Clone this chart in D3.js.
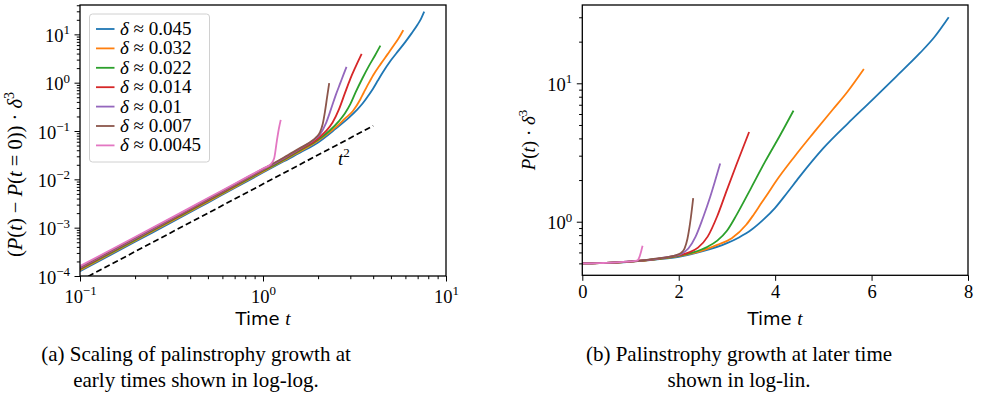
<!DOCTYPE html>
<html>
<head>
<meta charset="utf-8">
<script src="https://cdn.jsdelivr.net/npm/d3@7/dist/d3.min.js"></script>
<style>
  body { margin: 0; background: #fff; }
  svg { display: block; }
</style>
</head>
<body>
<svg id="fig" width="983" height="399"></svg>
<script>
// Runs, labelled by their delta value
const deltaLabels = ["0.045", "0.032", "0.022", "0.014", "0.01", "0.007", "0.0045"];
const colors = ["#1f77b4", "#ff7f0e", "#2ca02c", "#d62728", "#9467bd", "#8c564b", "#e377c2"];
// P(t=0)·δ³ for each run
const initialValue = [0.5, 0.5, 0.5, 0.5, 0.5, 0.5, 0.5];

// Sampled times t and growth (P(t) − P(0))·δ³ for each run
const times045 = [0, 0.1, 0.2, 0.35, 0.5, 0.7, 1.0, 1.3, 1.6, 2.0, 2.5, 3.0, 3.25, 3.5, 3.75, 4.0, 4.25, 4.5, 5.0, 5.5, 6.0, 6.5, 7.0, 7.3, 7.6];
const growth045 = [0, 1.25e-4, 5.1e-4, 1.58e-3, 3.3e-3, 6.6e-3, 0.0138, 0.0236, 0.036, 0.058, 0.112, 0.20, 0.27, 0.37, 0.53, 0.76, 1.12, 1.6, 2.9, 4.6, 7.0, 10.6, 16.0, 21.0, 29.5];

const times032 = [0, 0.1, 0.2, 0.35, 0.5, 0.7, 1.0, 1.3, 1.6, 2.0, 2.5, 2.8, 3.1, 3.4, 3.55, 3.7, 3.85, 4.0, 4.4, 4.8, 5.2, 5.5, 5.84];
const growth032 = [0, 1.32e-4, 5.4e-4, 1.67e-3, 3.45e-3, 6.9e-3, 0.0144, 0.0246, 0.038, 0.063, 0.12, 0.18, 0.26, 0.45, 0.62, 0.84, 1.1, 1.42, 2.45, 3.9, 6.0, 8.2, 12.2];

const times022 = [0, 0.1, 0.2, 0.35, 0.5, 0.7, 1.0, 1.3, 1.6, 2.0, 2.3, 2.6, 2.8, 3.0, 3.2, 3.5, 3.8, 4.1, 4.38];
const growth022 = [0, 1.38e-4, 5.6e-4, 1.74e-3, 3.6e-3, 7.2e-3, 0.0150, 0.0256, 0.040, 0.066, 0.10, 0.16, 0.23, 0.36, 0.62, 1.25, 2.25, 3.7, 5.85];

const times014 = [0, 0.1, 0.2, 0.35, 0.5, 0.7, 1.0, 1.3, 1.6, 2.0, 2.2, 2.4, 2.6, 2.8, 3.0, 3.2, 3.46];
const growth014 = [0, 1.44e-4, 5.85e-4, 1.81e-3, 3.75e-3, 7.5e-3, 0.0156, 0.0266, 0.042, 0.070, 0.098, 0.15, 0.28, 0.6, 1.2, 2.1, 3.95];

const times010 = [0, 0.1, 0.2, 0.35, 0.5, 0.7, 1.0, 1.3, 1.6, 1.9, 2.05, 2.2, 2.35, 2.5, 2.65, 2.75, 2.86];
const growth010 = [0, 1.49e-4, 6.0e-4, 1.87e-3, 3.87e-3, 7.7e-3, 0.0161, 0.0275, 0.0435, 0.066, 0.085, 0.14, 0.28, 0.56, 1.0, 1.45, 2.13];

const times007 = [0, 0.1, 0.2, 0.35, 0.5, 0.7, 1.0, 1.3, 1.6, 1.8, 1.95, 2.05, 2.12, 2.18, 2.24, 2.30];
const growth007 = [0, 1.53e-4, 6.2e-4, 1.92e-3, 3.97e-3, 7.9e-3, 0.0165, 0.0283, 0.0448, 0.058, 0.074, 0.095, 0.14, 0.25, 0.5, 0.98];

const times0045 = [0, 0.1, 0.2, 0.35, 0.5, 0.7, 1.0, 1.1, 1.15, 1.19, 1.22, 1.25];
const growth0045 = [0, 1.6e-4, 6.4e-4, 1.98e-3, 4.1e-3, 8.1e-3, 0.0168, 0.0204, 0.027, 0.062, 0.11, 0.17];

const runTimes = [times045, times032, times022, times014, times010, times007, times0045];
const runGrowth = [growth045, growth032, growth022, growth014, growth010, growth007, growth0045];

// t² guide line endpoints
const guideTimes = [0.1, 4.0];
const guideValues = [8e-5, 0.128];

// Tick values
const leftXMajor = [0.1, 1, 10];
const leftYMajor = [1e-4, 1e-3, 1e-2, 1e-1, 1, 10];
const rightXMajor = [0, 2, 4, 6, 8];
const rightYMajor = [1, 10];

const serif = "'Liberation Serif', 'DejaVu Serif', serif";
const sans = "'DejaVu Sans', sans-serif";
const svg = d3.select("#fig");

const runs = deltaLabels.map((label, i) => ({
  label, color: colors[i],
  pts: runTimes[i].map((t, k) => [t, runGrowth[i][k]]),
  p0: initialValue[i]
}));

// Scales
const xL = d3.scaleLog().domain([0.1, 10]).range([80, 446]);
const yL = d3.scaleLog().domain([1e-4, 40.5]).range([276, 5]);
const xR = d3.scaleLinear().domain([0, 8]).range([582.3, 968]);
const yR = d3.scaleLog().domain([0.41, 36.8]).range([275.3, 5]);

function minorLog(domain) {
  const out = [];
  const lo = Math.floor(Math.log10(domain[0])), hi = Math.ceil(Math.log10(domain[1]));
  for (let e = lo; e <= hi; e++) {
    for (let m = 2; m <= 9; m++) {
      const v = m * Math.pow(10, e);
      if (v >= domain[0] && v <= domain[1]) out.push(v);
    }
  }
  return out;
}

function powerLabel(text, v, size) {
  const e = Math.round(Math.log10(v));
  text.text(null);
  text.append("tspan").text("10");
  text.append("tspan").attr("font-size", size * 0.7).attr("dy", -0.42 * size)
    .text(e < 0 ? "\u2212" + (-e) : String(e));
}

const clipL = svg.append("clipPath").attr("id", "clipL");
clipL.append("rect").attr("x", xL.range()[0]).attr("y", yL.range()[1])
  .attr("width", xL.range()[1] - xL.range()[0]).attr("height", yL.range()[0] - yL.range()[1]);
const clipR = svg.append("clipPath").attr("id", "clipR");
clipR.append("rect").attr("x", xR.range()[0]).attr("y", yR.range()[1])
  .attr("width", xR.range()[1] - xR.range()[0]).attr("height", yR.range()[0] - yR.range()[1]);

function styleAxis(g) {
  g.select(".domain").remove();
  g.selectAll(".tick line").attr("stroke", "#000").attr("stroke-width", 1);
}

// ---------- Panel (a): log-log ----------
const gL = svg.append("g");
const lineL = d3.line().x(d => xL(d[0])).y(d => yL(d[1])).curve(d3.curveMonotoneX);
const dataL = gL.append("g").attr("clip-path", "url(#clipL)");
runs.forEach(r => {
  dataL.append("path").attr("d", lineL(r.pts.filter(p => p[0] > 0 && p[1] > 0)))
    .attr("fill", "none").attr("stroke", r.color).attr("stroke-width", 1.8);
});
dataL.append("path").attr("d", lineL(guideTimes.map((t, i) => [t, guideValues[i]])))
  .attr("fill", "none").attr("stroke", "#000").attr("stroke-width", 1.7)
  .attr("stroke-dasharray", "6,3.2");

// t² annotation
const tsq = gL.append("text").attr("x", 338).attr("y", 165)
  .attr("font-family", serif).attr("font-size", 19);
tsq.append("tspan").attr("font-style", "italic").text("t");
tsq.append("tspan").attr("font-size", 13).attr("dy", -8).text("2");

// axes
gL.append("g").attr("transform", `translate(0,${yL.range()[0]})`)
  .call(d3.axisBottom(xL).tickValues(minorLog(xL.domain()).filter(v => !leftXMajor.includes(v)))
    .tickSize(3.2).tickSizeOuter(0).tickFormat(""))
  .call(styleAxis);
gL.append("g").attr("transform", `translate(0,${yL.range()[0]})`)
  .call(d3.axisBottom(xL).tickValues(leftXMajor).tickSize(5.5).tickSizeOuter(0))
  .call(styleAxis)
  .call(g => g.selectAll(".tick text").attr("font-family", serif).attr("font-size", 18.5)
    .attr("fill", "#000").attr("y", 27).attr("dy", null).attr("x", 0)
    .each(function (d) { powerLabel(d3.select(this), d, 18.5); }));

gL.append("g").attr("transform", `translate(${xL.range()[0]},0)`)
  .call(d3.axisLeft(yL).tickValues(minorLog(yL.domain()).filter(v => !leftYMajor.some(m => Math.abs(m - v) / v < 1e-9)))
    .tickSize(3.2).tickSizeOuter(0).tickFormat(""))
  .call(styleAxis);
gL.append("g").attr("transform", `translate(${xL.range()[0]},0)`)
  .call(d3.axisLeft(yL).tickValues(leftYMajor).tickSize(5.5).tickSizeOuter(0))
  .call(styleAxis)
  .call(g => g.selectAll(".tick text").attr("font-family", serif).attr("font-size", 18.5)
    .attr("fill", "#000").attr("x", -10).attr("dy", null).attr("y", 7.2)
    .each(function (d) { powerLabel(d3.select(this), d, 18.5); }));

gL.append("rect").attr("x", xL.range()[0]).attr("y", yL.range()[1])
  .attr("width", xL.range()[1] - xL.range()[0]).attr("height", yL.range()[0] - yL.range()[1])
  .attr("fill", "none").attr("stroke", "#000").attr("stroke-width", 1.3);

// axis titles
function timeTitle(g, cx) {
  const t = g.append("text").attr("x", cx).attr("y", 325).attr("text-anchor", "middle")
    .attr("font-size", 18).attr("fill", "#000");
  t.append("tspan").attr("font-family", sans).text("Time ");
  t.append("tspan").attr("font-family", serif).attr("font-style", "italic").attr("font-size", 19).text("t");
}
timeTitle(gL, 263);

const ylabL = gL.append("text").attr("transform", "translate(22,257) rotate(-90)")
  .attr("font-family", serif).attr("font-size", 20.5).attr("fill", "#000");
ylabL.append("tspan").text("(");
ylabL.append("tspan").attr("font-style", "italic").text("P");
ylabL.append("tspan").text("(");
ylabL.append("tspan").attr("font-style", "italic").text("t");
ylabL.append("tspan").text(") \u2212 ");
ylabL.append("tspan").attr("font-style", "italic").text("P");
ylabL.append("tspan").text("(");
ylabL.append("tspan").attr("font-style", "italic").text("t");
ylabL.append("tspan").text(" = 0)) \u00B7 ");
ylabL.append("tspan").attr("font-style", "italic").text("\u03B4");
ylabL.append("tspan").attr("font-size", 14).attr("dy", -8.5).text("3");

// legend
const leg = gL.append("g");
leg.append("rect").attr("x", 89.5).attr("y", 14).attr("width", 120).attr("height", 148)
  .attr("rx", 3).attr("fill", "#fff").attr("fill-opacity", 0.8)
  .attr("stroke", "#d0d0d0").attr("stroke-width", 1);
runs.forEach((r, i) => {
  const cy = 29 + i * 19.4;
  leg.append("line").attr("x1", 96).attr("x2", 114.5).attr("y1", cy).attr("y2", cy)
    .attr("stroke", r.color).attr("stroke-width", 1.8);
  const t = leg.append("text").attr("x", 120).attr("y", cy + 6)
    .attr("font-family", serif).attr("font-size", 19).attr("fill", "#000");
  t.append("tspan").attr("font-style", "italic").text("\u03B4");
  t.append("tspan").text(" \u2248 " + r.label);
});

// ---------- Panel (b): log-lin ----------
const gR = svg.append("g");
const lineR = d3.line().x(d => xR(d[0])).y(d => yR(d[1])).curve(d3.curveMonotoneX);
const dataR = gR.append("g").attr("clip-path", "url(#clipR)");
runs.forEach(r => {
  dataR.append("path").attr("d", lineR(r.pts.map(p => [p[0], r.p0 + p[1]])))
    .attr("fill", "none").attr("stroke", r.color).attr("stroke-width", 1.8);
});

gR.append("g").attr("transform", `translate(0,${yR.range()[0]})`)
  .call(d3.axisBottom(xR).tickValues(rightXMajor).tickSize(5.5).tickSizeOuter(0).tickFormat(d3.format("d")))
  .call(styleAxis)
  .call(g => g.selectAll(".tick text").attr("font-family", serif).attr("font-size", 18.5)
    .attr("fill", "#000").attr("y", 23).attr("dy", null));

gR.append("g").attr("transform", `translate(${xR.range()[0]},0)`)
  .call(d3.axisLeft(yR).tickValues(minorLog(yR.domain()).filter(v => !rightYMajor.some(m => Math.abs(m - v) / v < 1e-9)))
    .tickSize(3.2).tickSizeOuter(0).tickFormat(""))
  .call(styleAxis);
gR.append("g").attr("transform", `translate(${xR.range()[0]},0)`)
  .call(d3.axisLeft(yR).tickValues(rightYMajor).tickSize(5.5).tickSizeOuter(0))
  .call(styleAxis)
  .call(g => g.selectAll(".tick text").attr("font-family", serif).attr("font-size", 18.5)
    .attr("fill", "#000").attr("x", -10).attr("dy", null).attr("y", 7.2)
    .each(function (d) { powerLabel(d3.select(this), d, 18.5); }));

gR.append("rect").attr("x", xR.range()[0]).attr("y", yR.range()[1])
  .attr("width", xR.range()[1] - xR.range()[0]).attr("height", yR.range()[0] - yR.range()[1])
  .attr("fill", "none").attr("stroke", "#000").attr("stroke-width", 1.3);

timeTitle(gR, 775);

const ylabR = gR.append("text").attr("transform", "translate(535,140) rotate(-90)")
  .attr("text-anchor", "middle").attr("font-family", serif).attr("font-size", 19).attr("fill", "#000");
ylabR.append("tspan").attr("font-style", "italic").text("P");
ylabR.append("tspan").text("(");
ylabR.append("tspan").attr("font-style", "italic").text("t");
ylabR.append("tspan").text(") \u00B7 ");
ylabR.append("tspan").attr("font-style", "italic").text("\u03B4");
ylabR.append("tspan").attr("font-size", 13).attr("dy", -8).text("3");

// ---------- Captions ----------
const captions = [
  { x: 196, lines: ["(a) Scaling of palinstrophy growth at", "early times shown in log-log."] },
  { x: 739, lines: ["(b) Palinstrophy growth at later time", "shown in log-lin."] }
];
captions.forEach(c => {
  c.lines.forEach((s, i) => {
    svg.append("text").attr("x", c.x).attr("y", 361 + i * 26).attr("text-anchor", "middle")
      .attr("font-family", serif).attr("font-size", 21).attr("fill", "#000").text(s);
  });
});
</script>
</body>
</html>
